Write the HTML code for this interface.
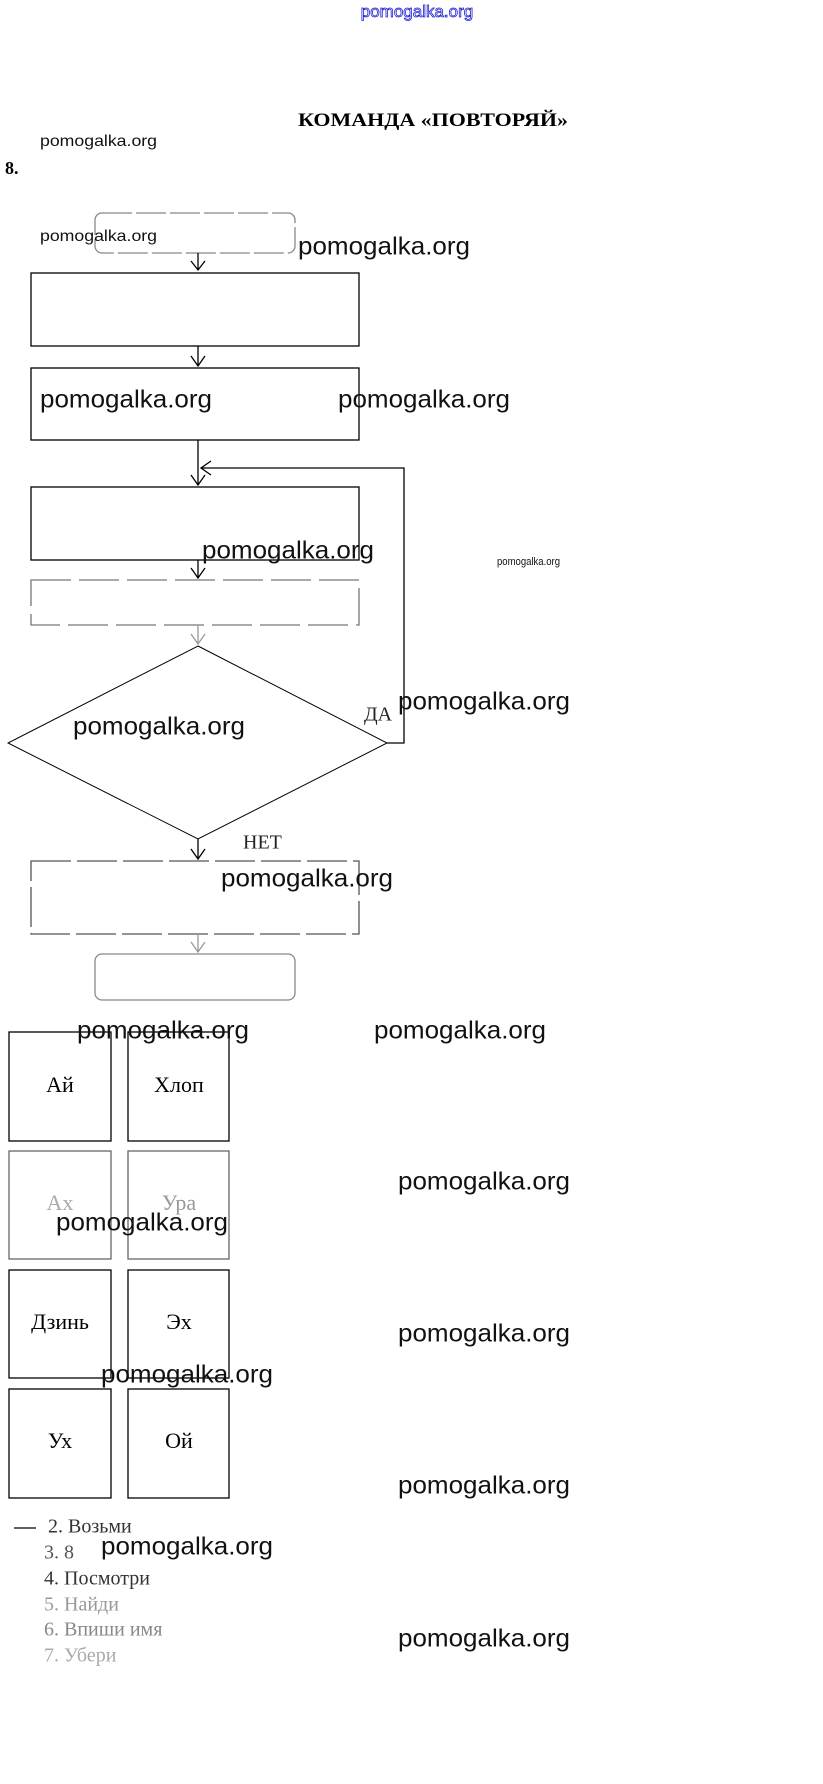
<!DOCTYPE html>
<html><head><meta charset="utf-8"><style>
html,body{margin:0;padding:0;background:#fff;}
svg{display:block;}
.wm{font-family:"Liberation Sans",sans-serif;fill:#111;}
.s{font-family:"Liberation Serif","Noto Serif CJK SC",serif;}
</style></head><body>
<svg width="823" height="1784" viewBox="0 0 823 1784" xmlns="http://www.w3.org/2000/svg">
<rect width="823" height="1784" fill="#fff"/>
<text x="417" y="17" text-anchor="middle" font-family="Liberation Sans,sans-serif" font-size="17" fill="none" stroke="#2020d0" stroke-width="0.8">pomogalka.org</text>
<text x="298" y="126" class="s" font-size="19" font-weight="bold" textLength="270" lengthAdjust="spacingAndGlyphs">КОМАНДА «ПОВТОРЯЙ»</text>
<text x="40" y="146" class="wm" font-size="16" textLength="117" lengthAdjust="spacingAndGlyphs">pomogalka.org</text>
<text x="5" y="174" class="s" font-size="18" font-weight="bold">8.</text>
<g fill="none" stroke="#000" stroke-width="1.3">
<rect x="95" y="213" width="200" height="40" rx="7" stroke="#888" stroke-dasharray="30 4"/>
<rect x="31" y="273" width="328" height="73"/>
<rect x="31" y="368" width="328" height="72"/>
<rect x="31" y="487" width="328" height="73"/>
<rect x="31" y="580" width="328" height="45" stroke="#777" stroke-dasharray="40 8"/>
<polygon points="198,646 387,743 198,839 8,743" stroke-width="1"/>
<rect x="31" y="861" width="328" height="73" stroke="#555" stroke-dasharray="40 6"/>
<rect x="95" y="954" width="200" height="46" rx="7" stroke="#888"/>
<path d="M198 253V270M191 261L198 270L205 261"/>
<path d="M198 346V366M191 356L198 366L205 356"/>
<path d="M198 440V485M191 475L198 485L205 475"/>
<path d="M198 560V578M191 568L198 578L205 568"/>
<path d="M198 625V644M191 634L198 644L205 634" stroke="#999"/>
<path d="M387 743H404V468H201M211 461L201 468L211 475"/>
<path d="M198 839V859M191 849L198 859L205 849"/>
<path d="M198 934V952M191 942L198 952L205 942" stroke="#999"/>
<rect x="9" y="1032" width="102" height="109"/>
<rect x="128" y="1032" width="101" height="109"/>
<rect x="9" y="1151" width="102" height="108" stroke="#666"/>
<rect x="128" y="1151" width="101" height="108" stroke="#666"/>
<rect x="9" y="1270" width="102" height="108"/>
<rect x="128" y="1270" width="101" height="108"/>
<rect x="9" y="1389" width="102" height="109"/>
<rect x="128" y="1389" width="101" height="109"/>
<path d="M14 1528H36"/>
</g>
<g class="s" font-size="22" text-anchor="middle" dominant-baseline="middle">
<text x="60" y="1087">Ай</text><text x="179" y="1087">Хлоп</text>
<text x="60" y="1205" fill="#aaa">Ах</text><text x="179" y="1205" fill="#999">Ура</text>
<text x="60" y="1324">Дзинь</text><text x="179" y="1324">Эх</text>
<text x="60" y="1443">Ух</text><text x="179" y="1443">Ой</text>
</g>
<g class="s" font-size="20" dominant-baseline="middle">
<text x="364" y="716" fill="#222">ДА</text>
<text x="243" y="844" fill="#222">НЕТ</text>
<text x="48" y="1528" fill="#333">2. Возьми</text>
<text x="44" y="1554" fill="#555">3. 8</text>
<text x="44" y="1580" fill="#333">4. Посмотри</text>
<text x="44" y="1606" fill="#999">5. Найди</text>
<text x="44" y="1631" fill="#888">6. Впиши имя</text>
<text x="44" y="1657" fill="#aaa">7. Убери</text>
</g>
<g class="wm" font-size="16" dominant-baseline="middle">
<text x="40" y="237" textLength="117" lengthAdjust="spacingAndGlyphs">pomogalka.org</text>
</g>
<text x="497" y="562" class="wm" font-size="11" dominant-baseline="middle" textLength="63" lengthAdjust="spacingAndGlyphs">pomogalka.org</text>
<g class="wm" font-size="25" dominant-baseline="middle">
<text x="298" y="248" textLength="172" lengthAdjust="spacingAndGlyphs">pomogalka.org</text>
<text x="40" y="401" textLength="172" lengthAdjust="spacingAndGlyphs">pomogalka.org</text>
<text x="338" y="401" textLength="172" lengthAdjust="spacingAndGlyphs">pomogalka.org</text>
<text x="202" y="552" textLength="172" lengthAdjust="spacingAndGlyphs">pomogalka.org</text>
<text x="398" y="703" textLength="172" lengthAdjust="spacingAndGlyphs">pomogalka.org</text>
<text x="73" y="728" textLength="172" lengthAdjust="spacingAndGlyphs">pomogalka.org</text>
<text x="221" y="880" textLength="172" lengthAdjust="spacingAndGlyphs">pomogalka.org</text>
<text x="77" y="1032" textLength="172" lengthAdjust="spacingAndGlyphs">pomogalka.org</text>
<text x="374" y="1032" textLength="172" lengthAdjust="spacingAndGlyphs">pomogalka.org</text>
<text x="398" y="1183" textLength="172" lengthAdjust="spacingAndGlyphs">pomogalka.org</text>
<text x="56" y="1224" textLength="172" lengthAdjust="spacingAndGlyphs">pomogalka.org</text>
<text x="398" y="1335" textLength="172" lengthAdjust="spacingAndGlyphs">pomogalka.org</text>
<text x="101" y="1376" textLength="172" lengthAdjust="spacingAndGlyphs">pomogalka.org</text>
<text x="398" y="1487" textLength="172" lengthAdjust="spacingAndGlyphs">pomogalka.org</text>
<text x="101" y="1548" textLength="172" lengthAdjust="spacingAndGlyphs">pomogalka.org</text>
<text x="398" y="1640" textLength="172" lengthAdjust="spacingAndGlyphs">pomogalka.org</text>
</g>
</svg>
</body></html>
